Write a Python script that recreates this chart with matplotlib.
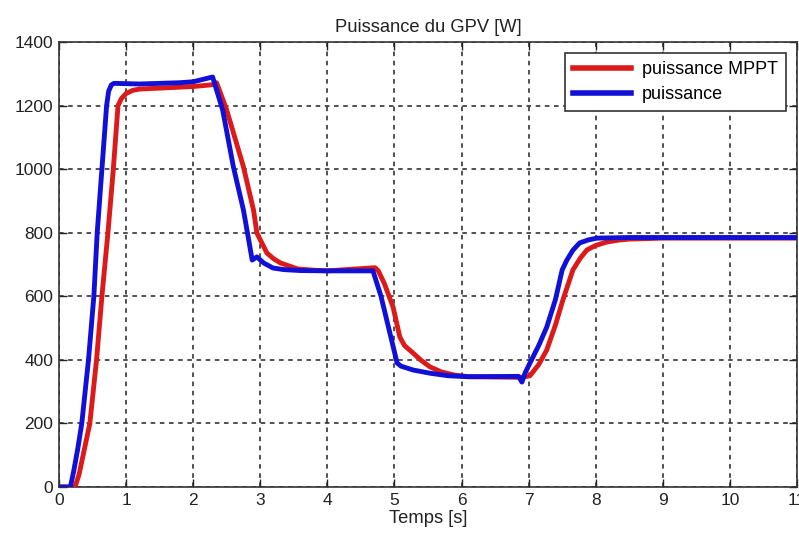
import matplotlib
matplotlib.use("Agg")
import matplotlib.pyplot as plt

# courbe "puissance MPPT" (rouge)
t_mppt = [0, 0.24, 0.3, 0.35, 0.4, 0.46, 0.56, 0.64, 0.73, 0.81, 0.88, 0.93, 1.0,
          1.1, 1.2, 1.5, 2.0, 2.3, 2.35, 2.5, 2.75, 2.9, 2.95, 3.1, 3.2, 3.3,
          3.45, 3.56, 3.8, 4.0, 4.71, 4.76, 4.85, 4.98, 5.08, 5.15, 5.28, 5.4,
          5.53, 5.7, 5.9, 6.1, 6.9, 7.02, 7.15, 7.27, 7.4, 7.51, 7.66, 7.77,
          7.87, 8.0, 8.17, 8.35, 8.5, 9.0, 11]
p_mppt = [0, 0, 40, 90, 140, 200, 400, 600, 800, 1000, 1200, 1222, 1238,
          1248, 1252, 1255, 1260, 1266, 1272, 1186, 1007, 871, 799, 736, 718, 705,
          694, 686, 682, 680, 690, 680, 640, 566, 472, 445, 421, 398,
          378, 362, 352, 347, 345, 350, 385, 431, 510, 588, 683, 720,
          746, 760, 771, 777, 780, 783, 783]

# courbe "puissance" (bleue)
t_pv = [0, 0.17, 0.22, 0.28, 0.34, 0.44, 0.52, 0.57, 0.64, 0.71, 0.74, 0.78,
        0.82, 1.2, 1.8, 2.0, 2.29, 2.44, 2.6, 2.75, 2.88, 2.95, 3.05, 3.19,
        3.35, 3.6, 4.0, 4.68, 4.8, 5.04, 5.1, 5.28, 5.53, 5.8, 6.1, 6.85,
        6.9, 6.95, 7.02, 7.15, 7.27, 7.4, 7.5, 7.57, 7.66, 7.76, 7.9, 8.02,
        8.5, 11]
p_pv = [0, 0, 50, 120, 200, 400, 600, 800, 1000, 1200, 1245, 1265,
        1270, 1268, 1272, 1275, 1290, 1186, 1007, 871, 714, 724, 705, 689,
        684, 681, 680, 680, 600, 390, 380, 368, 358, 350, 347, 348,
        330, 360, 390, 445, 503, 590, 683, 714, 745, 768, 778, 783,
        785, 785]

x_ticks = list(range(0, 12))
y_ticks = list(range(0, 1401, 200))

plt.rcParams['font.family'] = ['Liberation Sans', 'DejaVu Sans']

fig = plt.figure(figsize=(7.99, 5.39), dpi=100)
ax = fig.add_axes([0.0738, 0.0965, 0.9237, 0.8255])

ax.plot(t_mppt, p_mppt, color='#dd1a1a', lw=3.5, label='puissance MPPT',
        zorder=3, solid_joinstyle='round')
ax.plot(t_pv, p_pv, color='#1010d8', lw=3.5, label='puissance',
        zorder=4, solid_joinstyle='round')

ax.set_xlim(0, 11)
ax.set_ylim(0, 1400)
ax.set_xticks(x_ticks)
ax.set_yticks(y_ticks)
ax.tick_params(direction='in', length=6, width=1, top=True, right=True,
               labelsize=12.5, pad=4, colors='#222222')
ax.grid(True, color='#222222', linestyle=(0, (3, 3)), linewidth=1.1)
for s in ax.spines.values():
    s.set_linewidth(1.2)
    s.set_color('#333333')

ax.set_title('Puissance du GPV [W]', fontsize=13.2, color='#222222', pad=7)
ax.set_xlabel('Temps [s]', fontsize=13.2, color='#222222', labelpad=2)

leg = ax.legend(loc='upper right', fontsize=13, handlelength=3.2,
                fancybox=False, framealpha=1, edgecolor='#333333',
                borderaxespad=0.6, borderpad=0.45, handletextpad=0.6,
                labelspacing=0.45)
leg.get_frame().set_linewidth(1.2)
for line in leg.get_lines():
    line.set_linewidth(4)

fig.savefig('out.png', dpi=100)
